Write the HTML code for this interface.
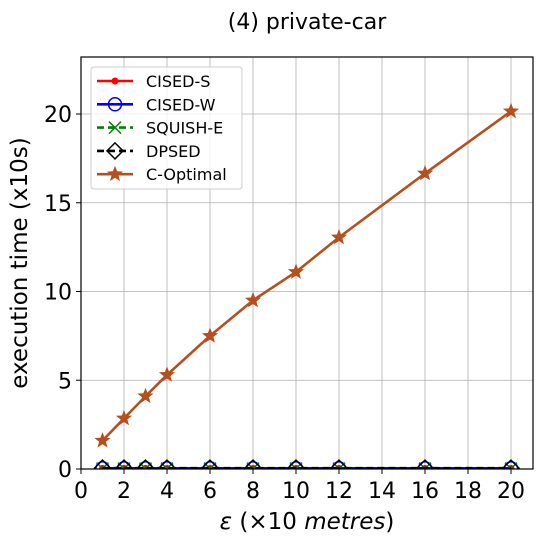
<!DOCTYPE html>
<html><head><meta charset="utf-8"><style>
body{margin:0;background:#fff;font-family:"Liberation Sans","DejaVu Sans",sans-serif}
</style></head><body>
<svg id="chart" width="546" height="544" font-family="DejaVu Sans, Liberation Sans, sans-serif">
<defs><clipPath id="clip"><rect x="81" y="57" width="452" height="412"/></clipPath></defs>
<text x="307" y="29" font-size="22" text-anchor="middle">(4) private-car</text>
<g id="grid"></g>
<g id="series" clip-path="url(#clip)"></g>
<rect x="81" y="57" width="452" height="412" fill="none" stroke="#000" stroke-width="1.2"/>
<g id="ticks"></g>
<text x="307" y="529" font-size="23" text-anchor="middle"><tspan font-style="italic">ε</tspan> (×10 <tspan font-style="italic">metres</tspan>)</text>
<text transform="translate(27,263) rotate(-90)" font-size="23" text-anchor="middle">execution time (x10s)</text>
<g>
<rect x="91" y="67" width="151" height="122" rx="3" fill="#fff" fill-opacity="0.8" stroke="#ccc"/>
<g id="legend"></g>
</g>
</svg>
<script>
const xs=[1,2,3,4,6,8,10,12,16,20];
const cisedS=[0.03,0.03,0.03,0.03,0.03,0.03,0.03,0.03,0.03,0.03];
const cisedW=[0.04,0.04,0.04,0.04,0.04,0.04,0.04,0.04,0.04,0.04];
const squish=[0.02,0.02,0.02,0.02,0.02,0.02,0.02,0.02,0.02,0.02];
const dpsed=[0.05,0.05,0.05,0.05,0.05,0.05,0.05,0.05,0.05,0.05];
const cOpt=[1.6,2.85,4.1,5.3,7.5,9.5,11.1,13.05,16.65,20.15];
const xTicks=[0,2,4,6,8,10,12,14,16,18,20];
const yTicks=[0,5,10,15,20];
const X=v=>81+v*21.5, Y=v=>469-v*17.75;
const NS="http://www.w3.org/2000/svg";
function mk(t,a,p){const e=document.createElementNS(NS,t);for(const k in a)e.setAttribute(k,a[k]);p.appendChild(e);return e;}
const grid=document.getElementById('grid'),ticks=document.getElementById('ticks'),ser=document.getElementById('series'),leg=document.getElementById('legend');
xTicks.forEach(t=>{const g=mk('line',{x1:X(t),x2:X(t),y1:57,y2:469,stroke:'#b0b0b0','stroke-width':0.8},grid);

mk('line',{x1:X(t),x2:X(t),y1:469,y2:474,stroke:'#000'},ticks);
const l=mk('text',{x:X(t),y:498,'font-size':22,'text-anchor':'middle'},ticks);l.textContent=t;
});
yTicks.forEach(t=>{const g=mk('line',{x1:81,x2:533,y1:Y(t),y2:Y(t),stroke:'#b0b0b0','stroke-width':0.8},grid);

mk('line',{x1:76,x2:81,y1:Y(t),y2:Y(t),stroke:'#000'},ticks);
const l=mk('text',{x:72,y:Y(t)+8,'font-size':22,'text-anchor':'end'},ticks);l.textContent=t;
});
function marker(type,x,y,c,p){
 if(type==='dot')return mk('circle',{cx:x,cy:y,r:3.5,fill:c},p);
 if(type==='circle')return mk('circle',{cx:x,cy:y,r:6.5,fill:'none',stroke:c,'stroke-width':1.5},p);
 if(type==='x'){const g=mk('path',{d:`M${x-6} ${y-6}L${x+6} ${y+6}M${x-6} ${y+6}L${x+6} ${y-6}`,stroke:c,'stroke-width':1.5},p);return g;}
 if(type==='diamond')return mk('path',{d:`M${x} ${y-8}L${x+8} ${y}L${x} ${y+8}L${x-8} ${y}Z`,fill:'none',stroke:c,'stroke-width':1.5},p);
 if(type==='star'){let d='';for(let i=0;i<10;i++){const r=i%2?3.6:8.5,a=-Math.PI/2+i*Math.PI/5;d+=(i?'L':'M')+(x+r*Math.cos(a)).toFixed(1)+' '+(y+r*Math.sin(a)).toFixed(1);}return mk('path',{d:d+'Z',fill:c},p);}
}
const S=[
 {n:'CISED-S',v:cisedS,c:'#ff0000',m:'dot',dash:''},
 {n:'CISED-W',v:cisedW,c:'#0000ff',m:'circle',dash:''},
 {n:'SQUISH-E',v:squish,c:'#008000',m:'x',dash:'7,4'},
 {n:'DPSED',v:dpsed,c:'#000000',m:'diamond',dash:'7,4'},
 {n:'C-Optimal',v:cOpt,c:'#b5501e',m:'star',dash:''}];
S.forEach((s,i)=>{
 const g=mk('g',{},ser);
 mk('polyline',{points:xs.map((x,j)=>X(x)+','+Y(s.v[j])).join(' '),fill:'none',stroke:s.c,'stroke-width':2.6,'stroke-dasharray':s.dash},g);
 xs.forEach((x,j)=>{const m=marker(s.m,X(x),Y(s.v[j]),s.c,g);});
 const ly=81+i*23.3;
 const le=mk('g',{},leg);
 mk('line',{x1:97,x2:133,y1:ly,y2:ly,stroke:s.c,'stroke-width':2.6,'stroke-dasharray':s.dash},le);
 marker(s.m,115,ly,s.c,le);
 const t=mk('text',{x:146,y:ly+6,'font-size':16},le);t.textContent=s.n;
});
</script>
</body></html>
